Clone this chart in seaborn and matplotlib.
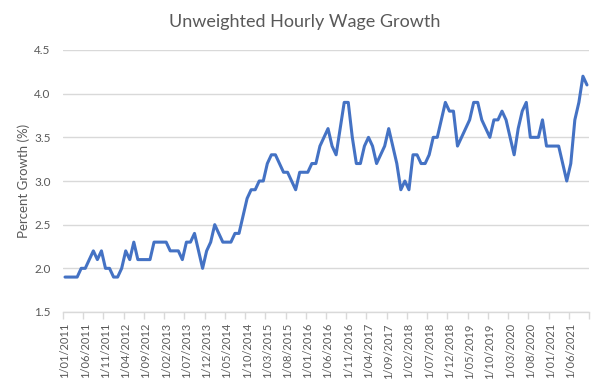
import matplotlib
matplotlib.use("Agg")
import matplotlib.pyplot as plt
import seaborn as sns
import pandas as pd
import numpy as np

# Monthly wage growth, Jan 2011 - Oct 2021
wage_growth = [
    1.9, 1.9, 1.9, 1.9, 2.0, 2.0, 2.1, 2.2, 2.1, 2.2, 2.0, 2.0,   # 2011
    1.9, 1.9, 2.0, 2.2, 2.1, 2.3, 2.1, 2.1, 2.1, 2.1, 2.3, 2.3,   # 2012
    2.3, 2.3, 2.2, 2.2, 2.2, 2.1, 2.3, 2.3, 2.4, 2.2, 2.0, 2.2,   # 2013
    2.3, 2.5, 2.4, 2.3, 2.3, 2.3, 2.4, 2.4, 2.6, 2.8, 2.9, 2.9,   # 2014
    3.0, 3.0, 3.2, 3.3, 3.3, 3.2, 3.1, 3.1, 3.0, 2.9, 3.1, 3.1,   # 2015
    3.1, 3.2, 3.2, 3.4, 3.5, 3.6, 3.4, 3.3, 3.6, 3.9, 3.9, 3.5,   # 2016
    3.2, 3.2, 3.4, 3.5, 3.4, 3.2, 3.3, 3.4, 3.6, 3.4, 3.2, 2.9,   # 2017
    3.0, 2.9, 3.3, 3.3, 3.2, 3.2, 3.3, 3.5, 3.5, 3.7, 3.9, 3.8,   # 2018
    3.8, 3.4, 3.5, 3.6, 3.7, 3.9, 3.9, 3.7, 3.6, 3.5, 3.7, 3.7,   # 2019
    3.8, 3.7, 3.5, 3.3, 3.6, 3.8, 3.9, 3.5, 3.5, 3.5, 3.7, 3.4,   # 2020
    3.4, 3.4, 3.4, 3.2, 3.0, 3.2, 3.7, 3.9, 4.2, 4.1,             # 2021
]
tick_labels = [
    "1/01/2011", "1/06/2011", "1/11/2011", "1/04/2012", "1/09/2012",
    "1/02/2013", "1/07/2013", "1/12/2013", "1/05/2014", "1/10/2014",
    "1/03/2015", "1/08/2015", "1/01/2016", "1/06/2016", "1/11/2016",
    "1/04/2017", "1/09/2017", "1/02/2018", "1/07/2018", "1/12/2018",
    "1/05/2019", "1/10/2019", "1/03/2020", "1/08/2020", "1/01/2021",
    "1/06/2021",
]
y_ticks = [1.5, 2.0, 2.5, 3.0, 3.5, 4.0, 4.5]

df = pd.DataFrame({"idx": np.arange(len(wage_growth)), "growth": wage_growth})

sns.set_theme(style="white")
plt.rcParams["font.family"] = ["Lato", "DejaVu Sans"]

fig = plt.figure(figsize=(6.10, 3.81), dpi=100)
ax = fig.add_axes([63/610, 1-312/381, (589-63)/610, (312-50)/381])

sns.lineplot(data=df, x="idx", y="growth", ax=ax, color="#4472C4", linewidth=2.2)

grey = "#595959"
grid = "#D9D9D9"
n = len(wage_growth)
ax.set_xlim(-0.5, n - 0.5)
ax.set_ylim(1.5, 4.5)
ax.set_yticks(y_ticks)
ax.set_yticklabels([f"{v:.1f}" for v in y_ticks], color=grey, fontsize=8.5)
ax.yaxis.grid(True, color=grid, linewidth=1)
ax.set_axisbelow(True)

major = np.arange(0, n, 5)[:len(tick_labels)]
ax.set_xticks(major)
ax.set_xticklabels(tick_labels, rotation=90, color=grey, fontsize=8)
ax.set_xticks(np.arange(-0.5, n, 5), minor=True)
ax.tick_params(axis="x", which="major", length=0, pad=8)
ax.tick_params(axis="x", which="minor", length=5, color=grid, width=1, bottom=True)
ax.tick_params(axis="y", length=0, pad=9)

for s in ["top", "right", "left"]:
    ax.spines[s].set_visible(False)
ax.spines["bottom"].set_color(grid)
ax.spines["bottom"].set_linewidth(1)

ax.set_xlabel("")
ax.set_ylabel("Percent Growth (%)", color=grey, fontsize=9.5, labelpad=3)
fig.suptitle("Unweighted Hourly Wage Growth", x=0.5, y=1-22/381,
             va="center", color=grey, fontsize=13)

fig.savefig("out.png", dpi=100, facecolor="white")
